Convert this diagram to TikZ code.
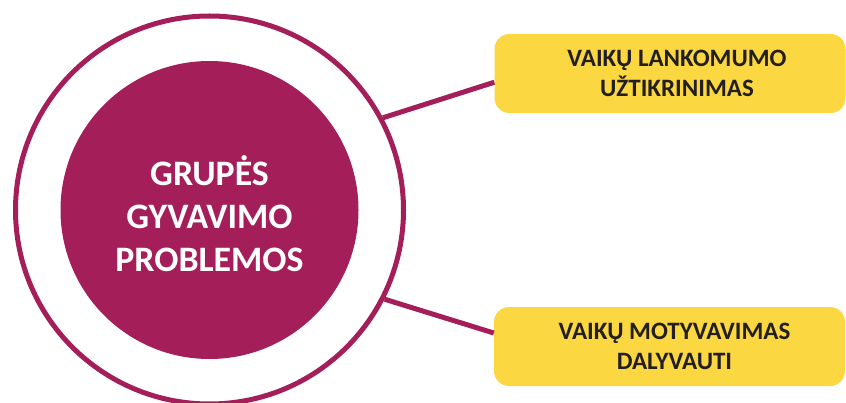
\documentclass[tikz,border=0pt]{standalone}
\usepackage{fontspec}
\setmainfont{Carlito}
\usetikzlibrary{calc}
\definecolor{plum}{RGB}{164,30,89}
\definecolor{sun}{RGB}{251,215,66}
\definecolor{ink}{RGB}{35,31,32}
\begin{document}
\begin{tikzpicture}[x=1pt,y=1pt,
  ring/.style={circle,draw=plum,line width=5pt,minimum size=388pt,inner sep=0pt},
  core/.style={circle,fill=plum,minimum size=298pt,inner sep=0pt},
  coretext/.style={text=white,align=center,font=\fontsize{35.8}{43}\selectfont\bfseries},
  tag/.style={fill=sun,rounded corners=15pt,minimum width=351pt,minimum height=79pt,inner sep=0pt},
  tagtext/.style={text=ink,align=center,font=\fontsize{25}{30.5}\selectfont\bfseries},
  link/.style={draw=plum,line width=5pt}]
\useasboundingbox (0,0) rectangle (846,402);
\node[ring] (outer) at (209.5,192) {};
\node[core] (inner) at (209.5,192) {};
\node[coretext] (title) at ($(inner.center)+(0,-4)$) {GRUPĖS\\GYVAVIMO\\PROBLEMOS};
\node[tag] (b1) at (670,328.5) {};
\node[tag] (b2) at (669.5,55.5) {};
\node[tagtext] (t1) at ($(b1.center)+(7,0)$) {VAIKŲ LANKOMUMO\\UŽTIKRINIMAS};
\node[tagtext] (t2) at ($(b2.center)+(5,0)$) {VAIKŲ MOTYVAVIMAS\\DALYVAUTI};
\draw[link] (outer.28.6) -- ($(b1.south west)!0.39!(b1.north west)$);
\draw[link] (outer.-27.4) -- ($(b2.south west)!0.67!(b2.north west)$);
\end{tikzpicture}
\end{document}
